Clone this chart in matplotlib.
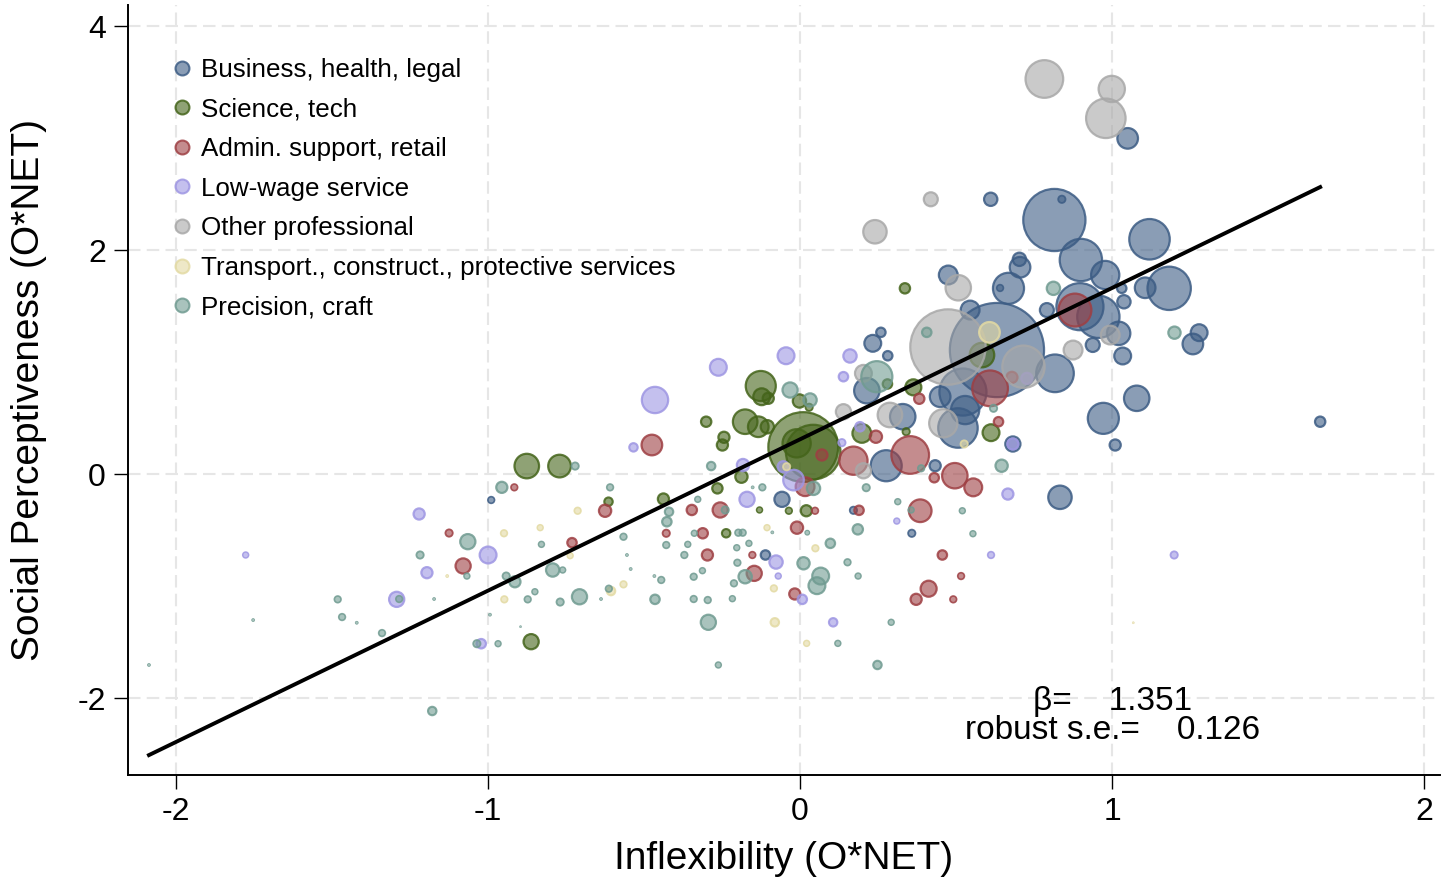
import numpy as np
import matplotlib.pyplot as plt
from matplotlib.lines import Line2D
from matplotlib.colors import to_rgba

# (inflexibility, social perceptiveness, employment weight) per occupation
business = [
    (-0.990, -0.232, 5), (0.815, 2.268, 436), (0.839, 2.453, 6), (0.611, 2.453, 20),
    (0.900, 1.911, 202), (1.120, 2.096, 185), (0.978, 1.777, 90), (1.183, 1.658, 212),
    (1.106, 1.663, 48), (0.705, 1.846, 48), (0.703, 1.917, 20), (0.475, 1.777, 40),
    (0.668, 1.658, 109), (0.641, 1.661, 5), (0.545, 1.464, 40), (0.897, 1.494, 250),
    (0.791, 1.464, 22), (0.956, 1.404, 202), (1.031, 1.658, 10), (1.038, 1.538, 20),
    (1.021, 1.256, 62), (1.034, 1.054, 32), (0.938, 1.152, 22), (0.817, 0.899, 160),
    (1.279, 1.262, 32), (1.259, 1.161, 48), (0.972, 0.497, 109), (1.079, 0.676, 73),
    (1.010, 0.259, 14), (0.833, -0.208, 62), (1.050, 2.997, 48), (1.667, 0.467, 12),
    (0.631, 1.107, 1000), (0.233, 1.167, 32), (0.259, 1.265, 10), (0.281, 1.056, 10),
    (0.214, 0.744, 73), (0.329, 0.512, 73), (0.276, 0.074, 109), (0.433, 0.074, 14),
    (0.358, -0.529, 6), (0.682, 0.268, 26), (0.449, 0.690, 48), (0.522, 0.732, 250),
    (0.506, 0.411, 176), (0.529, 0.571, 90), (-0.111, -0.723, 10), (-0.058, -0.226, 26),
    (0.171, -0.324, 6),
]
science = [
    (-0.876, 0.071, 68), (-0.771, 0.071, 58), (-0.614, -0.247, 8), (-0.438, -0.223, 14),
    (-0.862, -1.497, 26), (-0.237, -0.529, 8), (-0.265, -0.128, 12), (-0.130, -0.321, 4),
    (-0.036, -0.328, 5), (0.020, -0.328, 14), (-0.301, 0.467, 12), (-0.249, 0.259, 14),
    (-0.244, 0.328, 14), (-0.188, -0.024, 17), (-0.176, 0.467, 68), (-0.134, 0.422, 48),
    (-0.105, 0.422, 20), (-0.126, 0.786, 102), (-0.123, 0.690, 32), (-0.102, 0.676, 14),
    (-0.002, 0.652, 20), (0.029, 0.596, 6), (0.010, 0.241, 548), (0.042, 0.196, 336),
    (-0.011, 0.274, 90), (0.198, 0.363, 40), (0.336, 1.658, 12), (0.363, 0.774, 29),
    (0.340, 0.378, 6), (0.280, 0.804, 10), (0.612, 0.369, 32), (0.583, 1.062, 68),
]
admin = [
    (-0.916, -0.119, 5), (-1.125, -0.527, 6), (-1.080, -0.821, 26), (-0.625, -0.328, 17),
    (-0.731, -0.613, 10), (-0.429, -0.529, 6), (-0.475, 0.259, 48), (-0.347, -0.321, 12),
    (-0.256, -0.321, 26), (-0.312, -0.529, 12), (-0.297, -0.723, 14), (-0.153, -0.723, 5),
    (-0.147, -0.887, 26), (-0.010, -0.479, 17), (-0.017, -1.071, 14), (0.048, -0.328, 5),
    (0.189, -0.324, 10), (0.070, 0.170, 14), (0.016, -0.113, 40), (0.243, 0.333, 17),
    (0.171, 0.119, 90), (0.353, 0.170, 160), (0.382, 0.672, 12), (0.430, -0.033, 10),
    (0.496, -0.015, 73), (0.555, -0.119, 36), (0.385, -0.328, 58), (0.456, -0.723, 10),
    (0.516, -0.911, 5), (0.412, -1.024, 29), (0.372, -1.119, 14), (0.491, -1.119, 5),
    (0.609, 0.765, 144), (0.679, 0.863, 14), (0.636, 0.467, 10), (0.881, 1.464, 122),
]
lowwage = [
    (-1.221, -0.357, 14), (-1.777, -0.723, 4), (-1.196, -0.881, 14), (-1.000, -0.723, 32),
    (-1.293, -1.119, 26), (-1.022, -1.515, 10), (-0.465, 0.661, 78), (-0.534, 0.238, 8),
    (-0.262, 0.953, 32), (-0.045, 1.056, 32), (-0.183, 0.080, 17), (-0.170, -0.226, 26),
    (-0.077, -0.786, 20), (-0.070, -0.911, 4), (0.007, -1.119, 10), (0.106, -1.324, 8),
    (0.310, -0.420, 4), (0.160, 1.054, 20), (0.139, 0.869, 10), (0.192, 0.422, 10),
    (0.134, 0.280, 6), (-0.021, -0.054, 48), (-0.054, 0.065, 14), (0.612, -0.723, 5),
    (0.666, -0.179, 14), (0.727, 0.854, 14), (0.682, 0.268, 14), (1.199, -0.723, 6),
]
other_prof = [
    (0.783, 3.527, 160), (0.999, 3.438, 78), (0.980, 3.176, 176), (0.419, 2.453, 22),
    (0.240, 2.163, 62), (0.507, 1.663, 73), (0.474, 1.134, 640), (0.716, 0.958, 202),
    (0.994, 1.241, 40), (0.139, 0.556, 26), (0.203, 0.899, 32), (0.288, 0.527, 68),
    (0.203, 0.029, 26), (0.459, 0.453, 90), (0.875, 1.107, 40),
]
transport = [
    (-0.949, -0.529, 5), (-0.948, -1.119, 5), (-1.131, -0.911, 1), (-0.713, -0.328, 5),
    (-0.833, -0.479, 4), (-0.737, -0.729, 4), (-0.606, -1.045, 8), (-0.566, -0.985, 5),
    (-0.106, -0.479, 4), (-0.084, -1.021, 5), (-0.081, -1.324, 8), (0.021, -1.512, 4),
    (0.049, -0.663, 5), (0.607, 1.265, 48), (0.526, 0.268, 6), (1.068, -1.328, 0.5),
    (-0.043, 0.065, 6),
]
precision = [
    (-0.956, -0.119, 14), (-0.721, 0.071, 6), (-1.065, -0.604, 26), (-1.218, -0.723, 6),
    (-1.068, -0.911, 4), (-0.942, -0.911, 6), (-1.285, -1.116, 5), (-1.482, -1.119, 5),
    (-1.173, -1.116, 1), (-1.468, -1.277, 5), (-1.421, -1.328, 1), (-1.340, -1.420, 5),
    (-1.753, -1.304, 1), (-0.994, -1.256, 1), (-1.036, -1.515, 6), (-0.968, -1.515, 4),
    (-2.087, -1.705, 1), (-1.179, -2.116, 8), (-0.609, -0.119, 5), (-0.420, -0.337, 8),
    (-0.427, -0.426, 10), (-0.566, -0.560, 5), (-0.829, -0.628, 4), (-0.429, -0.634, 5),
    (-0.555, -0.723, 1), (-0.543, -0.848, 1), (-0.793, -0.857, 20), (-0.761, -0.857, 4),
    (-0.914, -0.962, 14), (-0.850, -1.051, 4), (-0.873, -1.119, 5), (-0.769, -1.143, 6),
    (-0.707, -1.096, 26), (-0.613, -1.024, 5), (-0.638, -1.116, 1), (-0.465, -1.119, 10),
    (-0.445, -0.946, 5), (-0.467, -0.911, 1), (-0.896, -1.363, 0.5), (-0.262, -1.705, 4),
    (-0.341, -1.116, 5), (-0.296, -1.125, 5), (-0.217, -1.113, 4), (-0.294, -1.324, 26),
    (0.121, -1.512, 4), (0.248, -1.705, 8), (0.292, -1.324, 4), (0.011, -0.797, 17),
    (0.066, -0.911, 32), (0.054, -0.997, 32), (0.152, -0.788, 5), (0.186, -0.911, 4),
    (-0.176, -0.917, 20), (-0.201, -0.792, 5), (-0.212, -0.976, 5), (-0.203, -0.658, 4),
    (-0.164, -0.619, 4), (-0.313, -0.863, 4), (-0.341, -0.917, 5), (-0.371, -0.723, 5),
    (-0.360, -0.628, 4), (-0.339, -0.529, 4), (-0.240, -0.321, 6), (-0.198, -0.524, 5),
    (-0.184, -0.524, 5), (0.023, -0.524, 2.5), (0.097, -0.619, 10), (0.185, -0.494, 12),
    (-0.328, -0.226, 4), (-0.121, -0.119, 5), (-0.152, -0.119, 1), (-0.089, -0.521, 1),
    (-0.285, 0.071, 8), (-0.032, 0.750, 26), (0.032, 0.661, 20), (0.043, -0.128, 20),
    (0.212, -0.122, 6), (0.313, -0.247, 4), (0.246, 0.869, 109), (0.388, 0.051, 5),
    (0.356, -0.321, 4), (0.520, -0.328, 4), (0.554, -0.533, 4), (0.646, 0.074, 17),
    (0.620, 0.587, 6), (0.406, 1.265, 10), (0.812, 1.658, 20), (1.200, 1.262, 17),
]

groups = [
    ("Business, health, legal", business, "#3C5C84"),
    ("Science, tech", science, "#44641A"),
    ("Admin. support, retail", admin, "#9E3F43"),
    ("Low-wage service", lowwage, "#9E96E3"),
    ("Other professional", other_prof, "#A8A8A8"),
    ("Transport., construct., protective services", transport, "#E3DAA3"),
    ("Precision, craft", precision, "#709B91"),
]

beta = 1.351
se = 0.126
intercept = 0.31

plt.rcParams["font.family"] = ["Liberation Sans", "DejaVu Sans"]
plt.rcParams["axes.unicode_minus"] = False

fig = plt.figure(figsize=(14.42, 8.81), dpi=100)
ax = fig.add_axes([0.0888, 0.1203, 0.9098, 0.874])

all_x = []
handles = []
for label, pts, col in groups:
    arr = np.array(pts)
    s = 4.6 * arr[:, 2]
    lw = np.clip(0.25 * np.sqrt(s), 0.3, 1.6)
    ax.scatter(arr[:, 0], arr[:, 1], s=s, facecolor=to_rgba(col, 0.6),
               edgecolor=to_rgba(col, 0.85), linewidths=lw, zorder=2)
    all_x.extend(arr[:, 0])
    handles.append(Line2D([], [], ls="none", marker="o", markersize=10,
                          markerfacecolor=to_rgba(col, 0.6),
                          markeredgecolor=to_rgba(col, 0.85),
                          markeredgewidth=1.5, label=label))

# fitted line over the range of the data
xf = np.array([min(all_x), max(all_x)])
ax.plot(xf, intercept + beta * xf, color="black", lw=2.8, zorder=3)

ax.text(1.0, -2.03, f"β=    {beta:.3f}", ha="center", va="center", fontsize=24)
ax.text(1.0, -2.29, f"robust s.e.=    {se:.3f}", ha="center", va="center", fontsize=24)

ax.set_xlim(-2.154, 2.051)
ax.set_ylim(-2.6875, 4.1875)
ax.set_xticks([-2, -1, 0, 1, 2])
ax.set_yticks([-2, 0, 2, 4])
ax.grid(True, color="#E6E6E6", lw=1.5, ls=(0, (6, 3)), zorder=0)
ax.set_axisbelow(True)

for sp in ["top", "right"]:
    ax.spines[sp].set_visible(False)
for sp in ["left", "bottom"]:
    ax.spines[sp].set_linewidth(1.4)

ax.tick_params(length=10, width=1, pad=6, labelsize=23)

ax.set_xlabel("Inflexibility (O*NET)", fontsize=28, labelpad=10)
ax.set_ylabel("Social Perceptiveness (O*NET)", fontsize=28, labelpad=22)

ax.legend(handles=handles, loc="upper left", bbox_to_anchor=(0.023, 0.945),
          frameon=False, fontsize=18.7, handlelength=1.0, handletextpad=0.25,
          labelspacing=0.6, borderpad=0.4, borderaxespad=0)

fig.savefig("out.png", dpi=100)
